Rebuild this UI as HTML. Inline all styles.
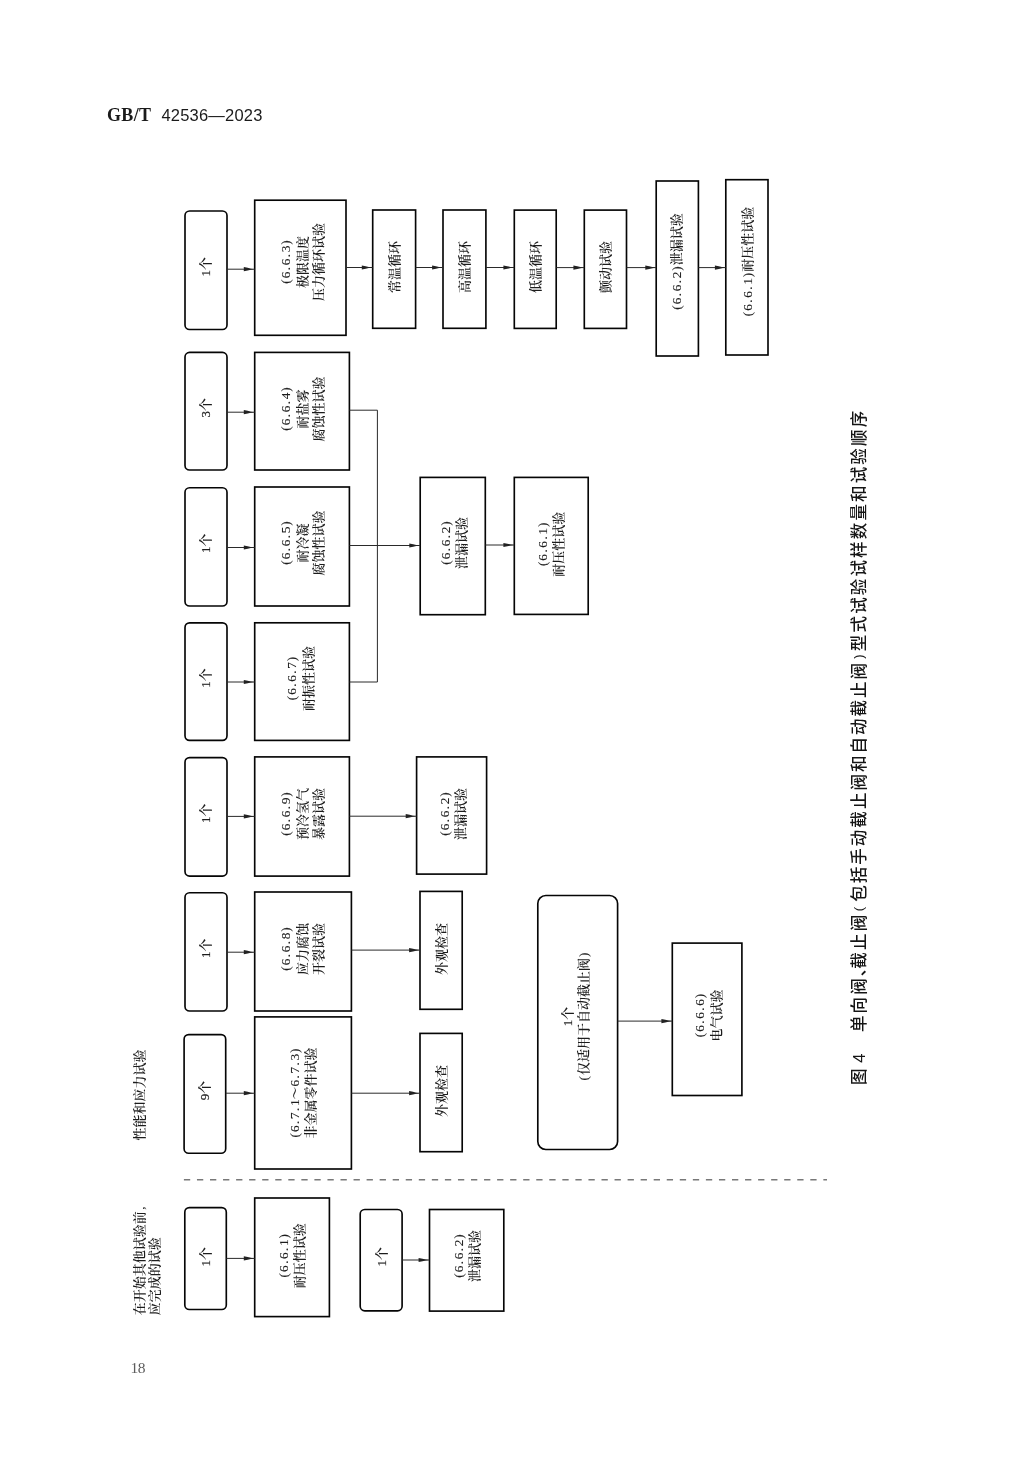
<!DOCTYPE html>
<html lang="zh-CN"><head><meta charset="utf-8"><title>GB/T 42536—2023</title>
<style>
html,body{margin:0;padding:0;background:#fff}
body{width:1036px;height:1474px;position:relative;overflow:hidden}
svg{position:absolute;left:0;top:0}
.pg{position:absolute;left:0;top:0;width:1036px;height:1474px;will-change:transform}
.bx rect{fill:none;stroke:#050505;stroke-width:1.65}
.l{fill:none;stroke:#2a2a2a;stroke-width:1}
.ah{fill:#222;stroke:none}
.d{stroke:#787878;stroke-width:1.35;stroke-dasharray:6.3 6.75}
.t{font-family:"Liberation Serif","Noto Serif CJK SC",serif;font-size:13px;font-weight:600;fill:#1c1c1c;text-anchor:middle}
.cap{font-family:"Liberation Sans","Noto Sans CJK SC",sans-serif;font-size:16.5px;font-weight:500;fill:#151515;text-anchor:middle}

.n{font-weight:400;stroke:#1c1c1c;stroke-width:.2px}
.a{font-weight:400;font-size:13.4px;stroke:#1c1c1c;stroke-width:.1px}
.capp{font-family:"Liberation Sans",sans-serif;font-size:13px;fill:#1a1a1a;text-anchor:middle}
.hd{position:absolute;left:107px;top:102.5px;margin:0;white-space:pre;line-height:24px;color:#1a1a1a}
.hd b{font-family:"Liberation Serif",serif;font-size:18px;font-weight:bold;letter-spacing:.35px}
.hd span{font-family:"Liberation Sans",sans-serif;font-size:16.5px;margin-left:10px;letter-spacing:.2px}
.pn{position:absolute;left:130.5px;top:1356.5px;margin:0;font-family:"Liberation Serif",serif;font-size:15.5px;line-height:22px;color:#5c5c5c;letter-spacing:-.6px}
</style></head><body><div class="pg">
<p class="hd"><b>GB/T</b><span>42536—2023</span></p>
<svg width="1036" height="1474" viewBox="0 0 1036 1474">
<g class="bx">
<rect x="185" y="211" width="42" height="118.5" rx="4.6"/>
<rect x="185" y="352.4" width="42" height="117.6" rx="4.6"/>
<rect x="185" y="487.7" width="42" height="118.3" rx="4.6"/>
<rect x="185" y="622.8" width="42" height="117.6" rx="4.6"/>
<rect x="185" y="757.6" width="42" height="118.5" rx="4.6"/>
<rect x="185" y="892.7" width="42" height="118.3" rx="4.6"/>
<rect x="184.1" y="1034.6" width="41.6" height="118.7" rx="4.6"/>
<rect x="184.8" y="1207.6" width="41.5" height="101.9" rx="4.6"/>
<rect x="360.2" y="1209.5" width="41.9" height="101.3" rx="4.6"/>
<rect x="537.8" y="895.5" width="79.8" height="254" rx="8"/>
<rect x="254.7" y="200.2" width="91.3" height="135.1"/>
<rect x="372.7" y="210" width="42.9" height="118.3"/>
<rect x="443" y="210" width="42.9" height="118.3"/>
<rect x="514.3" y="210.1" width="41.9" height="118.3"/>
<rect x="584.3" y="210.1" width="42.2" height="118.3"/>
<rect x="656.2" y="181" width="42.2" height="175"/>
<rect x="725.8" y="179.7" width="42.2" height="175.3"/>
<rect x="254.7" y="352.4" width="94.7" height="117.6"/>
<rect x="254.7" y="487" width="94.7" height="119"/>
<rect x="254.7" y="622.8" width="94.7" height="117.6"/>
<rect x="420.2" y="477.4" width="65.1" height="137.3"/>
<rect x="514.3" y="477.4" width="73.9" height="137"/>
<rect x="254.7" y="756.9" width="94.7" height="119.2"/>
<rect x="416.6" y="756.9" width="70" height="117.2"/>
<rect x="254.7" y="892" width="96.7" height="119"/>
<rect x="420" y="891.4" width="42.2" height="117.9"/>
<rect x="254.7" y="1016.9" width="96.7" height="152.1"/>
<rect x="420" y="1033.4" width="42.2" height="118.3"/>
<rect x="672.3" y="943.1" width="69.6" height="152.4"/>
<rect x="254.7" y="1198" width="74.7" height="118.6"/>
<rect x="429.5" y="1209.5" width="74.3" height="101.6"/>
</g>
<line class="l" x1="227" y1="269.2" x2="254.7" y2="269.2"/>
<path class="ah" d="M254.3 269.2l-3.6 -.55l-3 -.8l-3.9 -.75v4.2l3.9 -.75l3 -.8z"/>
<line class="l" x1="346" y1="267.5" x2="372.7" y2="267.5"/>
<path class="ah" d="M372.3 267.5l-3.6 -.55l-3 -.8l-3.9 -.75v4.2l3.9 -.75l3 -.8z"/>
<line class="l" x1="415.6" y1="267.5" x2="443" y2="267.5"/>
<path class="ah" d="M442.6 267.5l-3.6 -.55l-3 -.8l-3.9 -.75v4.2l3.9 -.75l3 -.8z"/>
<line class="l" x1="485.9" y1="267.5" x2="514.3" y2="267.5"/>
<path class="ah" d="M513.9 267.5l-3.6 -.55l-3 -.8l-3.9 -.75v4.2l3.9 -.75l3 -.8z"/>
<line class="l" x1="556.2" y1="267.6" x2="584.3" y2="267.6"/>
<path class="ah" d="M583.9 267.6l-3.6 -.55l-3 -.8l-3.9 -.75v4.2l3.9 -.75l3 -.8z"/>
<line class="l" x1="626.5" y1="267.6" x2="656.2" y2="267.6"/>
<path class="ah" d="M655.8 267.6l-3.6 -.55l-3 -.8l-3.9 -.75v4.2l3.9 -.75l3 -.8z"/>
<line class="l" x1="698.4" y1="267.6" x2="725.8" y2="267.6"/>
<path class="ah" d="M725.4 267.6l-3.6 -.55l-3 -.8l-3.9 -.75v4.2l3.9 -.75l3 -.8z"/>
<line class="l" x1="227" y1="412.2" x2="254.7" y2="412.2"/>
<path class="ah" d="M254.3 412.2l-3.6 -.55l-3 -.8l-3.9 -.75v4.2l3.9 -.75l3 -.8z"/>
<path class="l" d="M349.4 410.2H377.4V682H349.4"/>
<line class="l" x1="227" y1="547.5" x2="254.7" y2="547.5"/>
<path class="ah" d="M254.3 547.5l-3.6 -.55l-3 -.8l-3.9 -.75v4.2l3.9 -.75l3 -.8z"/>
<line class="l" x1="349.4" y1="545.5" x2="420.2" y2="545.5"/>
<path class="ah" d="M419.8 545.5l-3.6 -.55l-3 -.8l-3.9 -.75v4.2l3.9 -.75l3 -.8z"/>
<line class="l" x1="485.3" y1="545" x2="514.3" y2="545"/>
<path class="ah" d="M513.9 545l-3.6 -.55l-3 -.8l-3.9 -.75v4.2l3.9 -.75l3 -.8z"/>
<line class="l" x1="227" y1="682" x2="254.7" y2="682"/>
<path class="ah" d="M254.3 682l-3.6 -.55l-3 -.8l-3.9 -.75v4.2l3.9 -.75l3 -.8z"/>
<line class="l" x1="227" y1="816.4" x2="254.7" y2="816.4"/>
<path class="ah" d="M254.3 816.4l-3.6 -.55l-3 -.8l-3.9 -.75v4.2l3.9 -.75l3 -.8z"/>
<line class="l" x1="349.4" y1="816.2" x2="416.6" y2="816.2"/>
<path class="ah" d="M416.2 816.2l-3.6 -.55l-3 -.8l-3.9 -.75v4.2l3.9 -.75l3 -.8z"/>
<line class="l" x1="227" y1="952.2" x2="254.7" y2="952.2"/>
<path class="ah" d="M254.3 952.2l-3.6 -.55l-3 -.8l-3.9 -.75v4.2l3.9 -.75l3 -.8z"/>
<line class="l" x1="351.4" y1="950.1" x2="420" y2="950.1"/>
<path class="ah" d="M419.6 950.1l-3.6 -.55l-3 -.8l-3.9 -.75v4.2l3.9 -.75l3 -.8z"/>
<line class="l" x1="225.7" y1="1093.2" x2="254.7" y2="1093.2"/>
<path class="ah" d="M254.3 1093.2l-3.6 -.55l-3 -.8l-3.9 -.75v4.2l3.9 -.75l3 -.8z"/>
<line class="l" x1="351.4" y1="1093.2" x2="420" y2="1093.2"/>
<path class="ah" d="M419.6 1093.2l-3.6 -.55l-3 -.8l-3.9 -.75v4.2l3.9 -.75l3 -.8z"/>
<line class="l" x1="226.3" y1="1258.4" x2="254.7" y2="1258.4"/>
<path class="ah" d="M254.3 1258.4l-3.6 -.55l-3 -.8l-3.9 -.75v4.2l3.9 -.75l3 -.8z"/>
<line class="l" x1="402.1" y1="1260" x2="429.5" y2="1260"/>
<path class="ah" d="M429.1 1260l-3.6 -.55l-3 -.8l-3.9 -.75v4.2l3.9 -.75l3 -.8z"/>
<line class="l" x1="617.6" y1="1021.1" x2="672.3" y2="1021.1"/>
<path class="ah" d="M671.9 1021.1l-3.6 -.55l-3 -.8l-3.9 -.75v4.2l3.9 -.75l3 -.8z"/>
<line class="d" x1="183.9" y1="1179.7" x2="827" y2="1179.7"/>
<text class="t" transform="translate(205.7,266.75) rotate(-90)" x="-6.5 3.25" y="4.68"><tspan class="n">1</tspan>个</text>
<text class="t" transform="translate(205.7,407.7) rotate(-90)" x="-6.5 3.25" y="4.68"><tspan class="n">3</tspan>个</text>
<text class="t" transform="translate(205.7,543.35) rotate(-90)" x="-6.5 3.25" y="4.68"><tspan class="n">1</tspan>个</text>
<text class="t" transform="translate(205.7,678.1) rotate(-90)" x="-6.5 3.25" y="4.68"><tspan class="n">1</tspan>个</text>
<text class="t" transform="translate(205.7,813.35) rotate(-90)" x="-6.5 3.25" y="4.68"><tspan class="n">1</tspan>个</text>
<text class="t" transform="translate(205.7,948.35) rotate(-90)" x="-6.5 3.25" y="4.68"><tspan class="n">1</tspan>个</text>
<text class="t" transform="translate(204.6,1090.45) rotate(-90)" x="-6.5 3.25" y="4.68"><tspan class="n">9</tspan>个</text>
<text class="t" transform="translate(205.25,1256.75) rotate(-90)" x="-6.5 3.25" y="4.68"><tspan class="n">1</tspan>个</text>
<text class="t" transform="translate(380.85,1256.85) rotate(-90)" x="-6.5 3.25" y="4.68"><tspan class="n">1</tspan>个</text>
<text class="t" transform="translate(567.6,1016.5) rotate(-90)" x="-6.5 3.25" y="4.68"><tspan class="n">1</tspan>个</text>
<text class="t" transform="translate(583.4,1016.5) rotate(-90)" x="-61.75 -52 -39 -26 -13 0 13 26 39 52 61.75" y="4.68"><tspan class="a">(</tspan>仅适用于自动截止阀<tspan class="a">)</tspan></text>
<text class="t" transform="translate(285.2,262) rotate(-90)" x="-19.5 -13 -6.5 0 6.5 13 19.5" y="4.68"><tspan class="a">(6.6.3)</tspan></text>
<text class="t" transform="translate(302,262) rotate(-90)" x="-19.5 -6.5 6.5 19.5" y="4.68">极限温度</text>
<text class="t" transform="translate(318,262) rotate(-90)" x="-32.5 -19.5 -6.5 6.5 19.5 32.5" y="4.68">压力循环试验</text>
<text class="t" transform="translate(394.2,267) rotate(-90)" x="-19.5 -6.5 6.5 19.5" y="4.68">常温循环</text>
<text class="t" transform="translate(464.5,267) rotate(-90)" x="-19.5 -6.5 6.5 19.5" y="4.68">高温循环</text>
<text class="t" transform="translate(535.3,267) rotate(-90)" x="-19.5 -6.5 6.5 19.5" y="4.68">低温循环</text>
<text class="t" transform="translate(605.4,267) rotate(-90)" x="-19.5 -6.5 6.5 19.5" y="4.68">颤动试验</text>
<text class="t" transform="translate(676.8,262) rotate(-90)" x="-45.5 -39 -32.5 -26 -19.5 -13 -6.5 3.25 16.25 29.25 42.25" y="4.68"><tspan class="a">(6.6.2)</tspan>泄漏试验</text>
<text class="t" transform="translate(747,262) rotate(-90)" x="-52 -45.5 -39 -32.5 -26 -19.5 -13 -3.25 9.75 22.75 35.75 48.75" y="4.68"><tspan class="a">(6.6.1)</tspan>耐压性试验</text>
<text class="t" transform="translate(285.2,409) rotate(-90)" x="-19.5 -13 -6.5 0 6.5 13 19.5" y="4.68"><tspan class="a">(6.6.4)</tspan></text>
<text class="t" transform="translate(302,409) rotate(-90)" x="-13 0 13" y="4.68">耐盐雾</text>
<text class="t" transform="translate(318,409) rotate(-90)" x="-26 -13 0 13 26" y="4.68">腐蚀性试验</text>
<text class="t" transform="translate(285.2,543) rotate(-90)" x="-19.5 -13 -6.5 0 6.5 13 19.5" y="4.68"><tspan class="a">(6.6.5)</tspan></text>
<text class="t" transform="translate(302,543) rotate(-90)" x="-13 0 13" y="4.68">耐冷凝</text>
<text class="t" transform="translate(318,543) rotate(-90)" x="-26 -13 0 13 26" y="4.68">腐蚀性试验</text>
<text class="t" transform="translate(291.5,678.5) rotate(-90)" x="-19.5 -13 -6.5 0 6.5 13 19.5" y="4.68"><tspan class="a">(6.6.7)</tspan></text>
<text class="t" transform="translate(308,678.5) rotate(-90)" x="-26 -13 0 13 26" y="4.68">耐振性试验</text>
<text class="t" transform="translate(445,543) rotate(-90)" x="-19.5 -13 -6.5 0 6.5 13 19.5" y="4.68"><tspan class="a">(6.6.2)</tspan></text>
<text class="t" transform="translate(461,543) rotate(-90)" x="-19.5 -6.5 6.5 19.5" y="4.68">泄漏试验</text>
<text class="t" transform="translate(542.6,544.3) rotate(-90)" x="-19.5 -13 -6.5 0 6.5 13 19.5" y="4.68"><tspan class="a">(6.6.1)</tspan></text>
<text class="t" transform="translate(558.8,544.3) rotate(-90)" x="-26 -13 0 13 26" y="4.68">耐压性试验</text>
<text class="t" transform="translate(285.2,814) rotate(-90)" x="-19.5 -13 -6.5 0 6.5 13 19.5" y="4.68"><tspan class="a">(6.6.9)</tspan></text>
<text class="t" transform="translate(302,814) rotate(-90)" x="-19.5 -6.5 6.5 19.5" y="4.68">预冷氢气</text>
<text class="t" transform="translate(318,814) rotate(-90)" x="-19.5 -6.5 6.5 19.5" y="4.68">暴露试验</text>
<text class="t" transform="translate(444,814) rotate(-90)" x="-19.5 -13 -6.5 0 6.5 13 19.5" y="4.68"><tspan class="a">(6.6.2)</tspan></text>
<text class="t" transform="translate(460,814) rotate(-90)" x="-19.5 -6.5 6.5 19.5" y="4.68">泄漏试验</text>
<text class="t" transform="translate(285.2,949) rotate(-90)" x="-19.5 -13 -6.5 0 6.5 13 19.5" y="4.68"><tspan class="a">(6.6.8)</tspan></text>
<text class="t" transform="translate(302,949) rotate(-90)" x="-19.5 -6.5 6.5 19.5" y="4.68">应力腐蚀</text>
<text class="t" transform="translate(318,949) rotate(-90)" x="-19.5 -6.5 6.5 19.5" y="4.68">开裂试验</text>
<text class="t" transform="translate(441,949) rotate(-90)" x="-19.5 -6.5 6.5 19.5" y="4.68">外观检查</text>
<text class="t" transform="translate(294,1093) rotate(-90)" x="-42.25 -35.75 -29.25 -22.75 -16.25 -9.75 0 9.75 16.25 22.75 29.25 35.75 42.25" y="4.68"><tspan class="a">(6.7.1</tspan>～<tspan class="a">6.7.3)</tspan></text>
<text class="t" transform="translate(310.5,1093) rotate(-90)" x="-39 -26 -13 0 13 26 39" y="4.68">非金属零件试验</text>
<text class="t" transform="translate(441,1091) rotate(-90)" x="-19.5 -6.5 6.5 19.5" y="4.68">外观检查</text>
<text class="t" transform="translate(699.3,1015.5) rotate(-90)" x="-19.5 -13 -6.5 0 6.5 13 19.5" y="4.68"><tspan class="a">(6.6.6)</tspan></text>
<text class="t" transform="translate(716.2,1015.5) rotate(-90)" x="-19.5 -6.5 6.5 19.5" y="4.68">电气试验</text>
<text class="t" transform="translate(283,1255.7) rotate(-90)" x="-19.5 -13 -6.5 0 6.5 13 19.5" y="4.68"><tspan class="a">(6.6.1)</tspan></text>
<text class="t" transform="translate(299.3,1255.7) rotate(-90)" x="-26 -13 0 13 26" y="4.68">耐压性试验</text>
<text class="t" transform="translate(458.3,1256) rotate(-90)" x="-19.5 -13 -6.5 0 6.5 13 19.5" y="4.68"><tspan class="a">(6.6.2)</tspan></text>
<text class="t" transform="translate(474.8,1256) rotate(-90)" x="-19.5 -6.5 6.5 19.5" y="4.68">泄漏试验</text>
<text class="t" transform="translate(138.9,1095) rotate(-90)" x="-39 -26 -13 0 13 26 39" y="4.68">性能和应力试验</text>
<text class="t" transform="translate(138.9,1259.95) rotate(-90)" x="-48.75 -35.75 -22.75 -9.75 3.25 16.25 29.25 42.25 52" y="4.68">在开始其他试验前<tspan class="a">,</tspan></text>
<text class="t" transform="translate(154.7,1276.2) rotate(-90)" x="-32.5 -19.5 -6.5 6.5 19.5 32.5" y="4.68">应完成的试验</text>
<text class="cap" transform="translate(859,750) rotate(-90)" x="-326.8 -308.2 -273.8 -255.15 -236.5 -218 -210.4 -191.75 -173.1" y="5.94">图4单向阀、截止阀</text>
<text class="capp" transform="translate(859,750) rotate(-90)" x="-159" y="4.2">(</text>
<text class="cap" transform="translate(859,750) rotate(-90)" x="-143.5 -124.97 -106.44 -87.91 -69.38 -50.85 -32.32 -13.79 4.74 23.27 41.8 60.33 78.86" y="5.94">包括手动截止阀和自动截止阀</text>
<text class="capp" transform="translate(859,750) rotate(-90)" x="93.5" y="4.2">)</text>
<text class="cap" transform="translate(859,750) rotate(-90)" x="107.1 125.75 144.4 163.05 181.7 200.35 219 237.65 256.3 274.95 293.6 312.25 330.9" y="5.94">型式试验试样数量和试验顺序</text>
</svg>
<p class="pn">18</p>
</div></body></html>
